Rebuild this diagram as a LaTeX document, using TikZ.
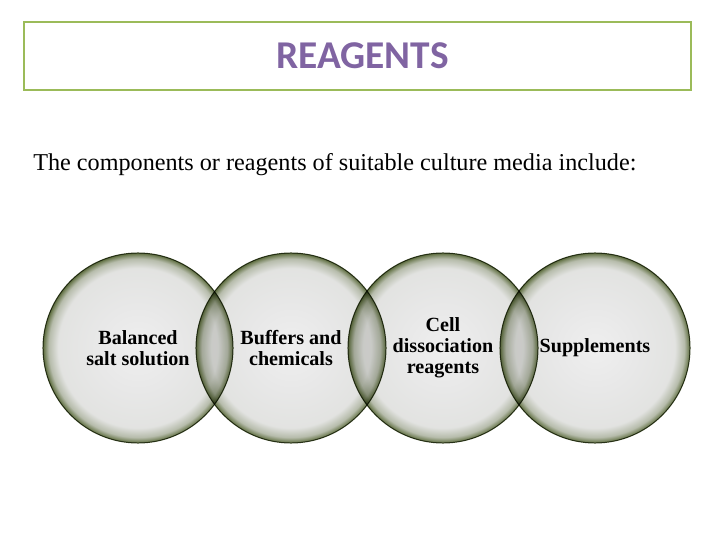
\documentclass[tikz,border=0pt]{standalone}
\usepackage{fontspec}
\setmainfont{Liberation Serif}
\newfontfamily\titlefont{Carlito}
\definecolor{titlepurple}{HTML}{8064A2}
\definecolor{boxgreen}{HTML}{9BBB59}
\definecolor{ringfill}{HTML}{E8E8E8}
\definecolor{ringedge}{HTML}{5A6A3A}
\definecolor{ringline}{HTML}{3C4728}
\pgfdeclareradialshading{ringshade}{\pgfpoint{0bp}{0bp}}{color(0bp)=(ringfill!70!white); color(11bp)=(ringfill); color(21bp)=(ringfill!96!ringedge); color(23.5bp)=(ringedge!35!ringfill); color(24.6bp)=(ringedge!80!ringfill); color(25bp)=(ringedge); color(50bp)=(ringedge)}
\tikzset{
    titlebox/.style={draw=boxgreen, line width=1pt, minimum width=16.675cm, minimum height=1.7cm,
        font=\titlefont\bfseries\fontsize{28}{32}\selectfont, text=titlepurple},
    ring/.style={circle, draw=ringline, line width=0.7pt, shading=ringshade, blend mode=multiply,
        minimum size=4.75cm, inner sep=0pt, align=center,
        font=\bfseries\fontsize{14.3}{15}\selectfont}
}
\begin{document}
\begin{tikzpicture}[x=0.025cm,y=0.025cm]
    \useasboundingbox (0,0) rectangle (728,546);
    \node[titlebox] (title) at (357.5,490) {\hspace*{0.25cm}\raisebox{-1pt}{REAGENTS}};
    \node[anchor=base west, inner sep=0pt, font=\fontsize{17.2}{20}\selectfont] (intro) at (33,375)
        {The components or reagents of suitable culture media include:};
    % the four overlapping circles
    \node[ring] (salt) at (138,198) {Balanced\\salt solution};
    \node[ring] (buffer) at (291,198) {Buffers and\\chemicals};
    \node[ring] (dissoc) at (443,198) {Cell\\dissociation\\reagents};
    \node[ring] (suppl) at (595,198) {Supplements};
\end{tikzpicture}
\end{document}
